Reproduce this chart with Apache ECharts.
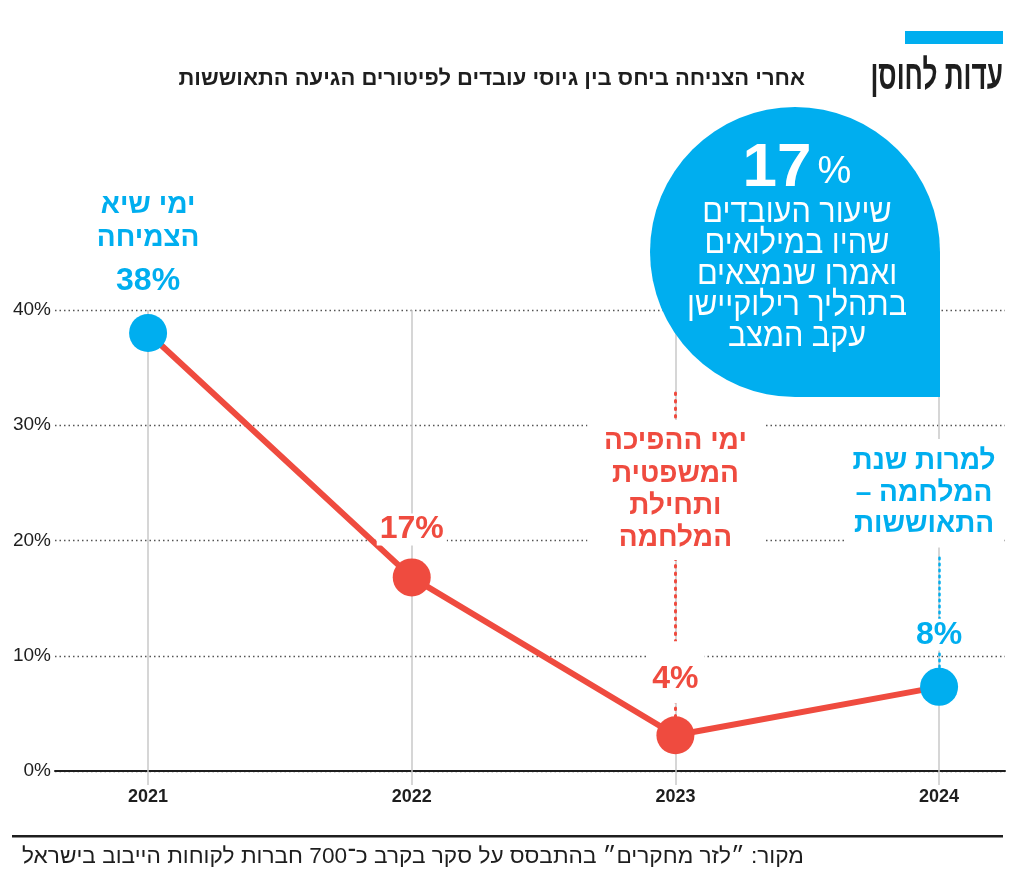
<!DOCTYPE html>
<html><head><meta charset="utf-8">
<script src="https://cdn.jsdelivr.net/npm/echarts@6/dist/echarts.min.js"></script>
<style>html,body{margin:0;padding:0;background:#fff}#c{width:1024px;height:878px}</style>
</head><body><div id="c"></div>
<script>
// ---- data ----
const years = [2021, 2022, 2023, 2024];
const values = [38, 16.8, 3.1, 7.3];
const valueLabels = ['38%', '17%', '4%', '8%'];
const yTicks = [0, 10, 20, 30, 40];
const titleText = 'עדות לחוסן';
const subtitleText = 'אחרי הצניחה ביחס בין גיוסי עובדים לפיטורים הגיעה התאוששות';
const note2021 = ['ימי שיא', 'הצמיחה'];
const note2023 = ['ימי ההפיכה', 'המשפטית', 'ותחילת', 'המלחמה'];
const note2024 = ['למרות שנת', 'המלחמה –\u200F', 'התאוששות'];
const bubbleValue = '17';
const bubbleLines = ['שיעור העובדים', 'שהיו במילואים', 'ואמרו שנמצאים', 'בתהליך רילוקיישן', 'עקב המצב'];
const sourceText = 'מקור: ״לזר מחקרים״ בהתבסס על סקר בקרב כ־700 חברות לקוחות הייבוב בישראל';
// annotation anchors (value units)
const note2023At = 24.38, note2024At = 24.1;
const leader2023Top = 32.8, leader2024Top = 18.5;

// ---- styles ----
const BLUE = '#00aeef', RED = '#ef4b3f', DARK = '#1e1e1e';
const HEB = "'Liberation Sans', 'DejaVu Sans', sans-serif";
const blueIdx = [0, 3];
const labelDist = [7, 13, 13, 17];

const chart = echarts.init(document.getElementById('c'), null, {renderer: 'canvas'});

const pointData = years.map((y, i) => {
  const col = blueIdx.includes(i) ? BLUE : RED;
  const item = {
    value: [y, values[i]],
    itemStyle: {color: col},
    label: {
      show: true, position: 'top', distance: labelDist[i],
      color: col, fontFamily: HEB, fontWeight: 'bold', fontSize: 32, lineHeight: 32,
      formatter: valueLabels[i]
    }
  };
  if (i === 0) {
    item.label.formatter = note2021.map(s => '{a|' + s + '}').join('\n') + '\n{b|' + valueLabels[i] + '}';
    item.label.rich = {
      a: {fontFamily: HEB, fontWeight: 'bold', fontSize: 28, lineHeight: 33, color: col},
      b: {fontFamily: HEB, fontWeight: 'bold', fontSize: 32, lineHeight: 52, color: col}
    };
  } else {
    item.label.backgroundColor = '#fff';
    item.label.padding = i === 2 ? [22, 6, 8, 6] : [0, 3, 0, 3];
  }
  return item;
});

const option = {
  animation: false,
  backgroundColor: '#fff',
  grid: [
    {left: 55, right: 19, top: 310, bottom: 107},
    {left: 55, right: 19, top: 310, bottom: 93}
  ],
  xAxis: [
    {
      type: 'value', gridIndex: 0, min: 2020.647, max: 2024.25,
      axisLine: {show: true, lineStyle: {color: DARK, width: 2}},
      axisTick: {show: false},
      splitLine: {show: false},
      axisLabel: {
        customValues: years, formatter: v => String(v), margin: 17,
        color: DARK, fontFamily: HEB, fontWeight: 'bold', fontSize: 18
      }
    },
    {type: 'value', gridIndex: 1, min: 2020.647, max: 2024.25, show: false}
  ],
  yAxis: [
    {
      type: 'value', gridIndex: 0, min: yTicks[0], max: yTicks[yTicks.length - 1], interval: 10,
      axisLine: {show: false}, axisTick: {show: false},
      axisLabel: {formatter: '{value}%', margin: 4, color: DARK, fontFamily: HEB, fontSize: 19},
      splitLine: {show: true, lineStyle: {color: '#555', width: 1.3, type: [1.5, 3]}}
    },
    {type: 'value', gridIndex: 1, min: 0, max: 1, show: false}
  ],
  series: [
    {
      type: 'line', xAxisIndex: 1, yAxisIndex: 1, z: 1, silent: true,
      data: [[years[0], 0]], symbol: 'none', lineStyle: {opacity: 0},
      markLine: {
        silent: true, z: 1, symbol: ['none', 'none'], label: {show: false},
        lineStyle: {color: '#c9c9c9', width: 1.5, type: 'solid'},
        data: years.map(y => ({xAxis: y}))
      }
    },
    {
      type: 'line', z: 3, data: pointData,
      symbol: 'circle', symbolSize: 38, showAllSymbol: true,
      lineStyle: {color: RED, width: 6},
      markLine: {
        silent: true, z: 2, symbol: ['none', 'none'], label: {show: false},
        data: [
          [{coord: [years[2], leader2023Top], lineStyle: {color: RED, width: 3, type: [1.5, 6], cap: 'round'}},
           {coord: [years[2], values[2]]}],
          [{coord: [years[3], leader2024Top], lineStyle: {color: BLUE, width: 2.5, type: [1.5, 4.5], cap: 'round'}},
           {coord: [years[3], values[3]]}]
        ]
      },
      markPoint: {
        silent: true, symbol: 'circle', symbolSize: 1, itemStyle: {color: 'rgba(0,0,0,0)'},
        data: [
          {coord: [years[2], note2023At], label: {
            show: true, position: 'inside', formatter: note2023.join('\n'),
            color: RED, fontFamily: HEB, fontWeight: 'bold', fontSize: 28, lineHeight: 32.3,
            align: 'center', width: 160, backgroundColor: '#fff', padding: [5, 8, 6, 8]}},
          {coord: [years[3], note2024At], label: {
            show: true, position: 'inside', formatter: note2024.join('\n'), offset: [-15, 0],
            color: BLUE, fontFamily: HEB, fontWeight: 'bold', fontSize: 28, lineHeight: 31.5,
            align: 'center', width: 150, backgroundColor: '#fff', padding: [4, 5, 10, 5]}}
        ]
      }
    }
  ],
  graphic: [
    {type: 'rect', z: 10, shape: {x: 905, y: 31, width: 98, height: 13}, style: {fill: BLUE}},
    {type: 'text', z: 10, x: 1003, y: 78, scaleX: 0.64,
      style: {text: titleText, fill: DARK, font: 'bold 41px ' + HEB, textAlign: 'right', textVerticalAlign: 'middle'}},
    {type: 'text', z: 10, x: 805, y: 79,
      style: {text: subtitleText, fill: DARK, font: 'bold 22px ' + HEB, textAlign: 'right', textVerticalAlign: 'middle'}},
    {type: 'circle', z: 10, shape: {cx: 795, cy: 252, r: 145}, style: {fill: BLUE}},
    {type: 'rect', z: 10, shape: {x: 795, y: 252, width: 145, height: 145}, style: {fill: BLUE}},
    {type: 'text', z: 11, x: 797, y: 169,
      style: {text: '{n|' + bubbleValue + '}{p|%}', textAlign: 'center', textVerticalAlign: 'middle',
        rich: {n: {fill: '#fff', font: 'bold 62px ' + HEB}, p: {fill: '#fff', font: '38px ' + HEB, padding: [8, 0, 0, 6]}}}},
    {type: 'text', z: 11, x: 797, y: 275, scaleX: 0.9,
      style: {text: bubbleLines.join('\n'), fill: '#fff', font: '34px ' + HEB, lineHeight: 31,
        textAlign: 'center', textVerticalAlign: 'middle'}},
    {type: 'rect', z: 10, shape: {x: 12, y: 835, width: 991, height: 2.5}, style: {fill: DARK}},
    {type: 'text', z: 10, x: 22, y: 857, scaleX: 1.03,
      style: {text: sourceText, fill: DARK, font: '22px ' + HEB, textAlign: 'left', textVerticalAlign: 'middle'}}
  ]
};
chart.setOption(option);
</script></body></html>
